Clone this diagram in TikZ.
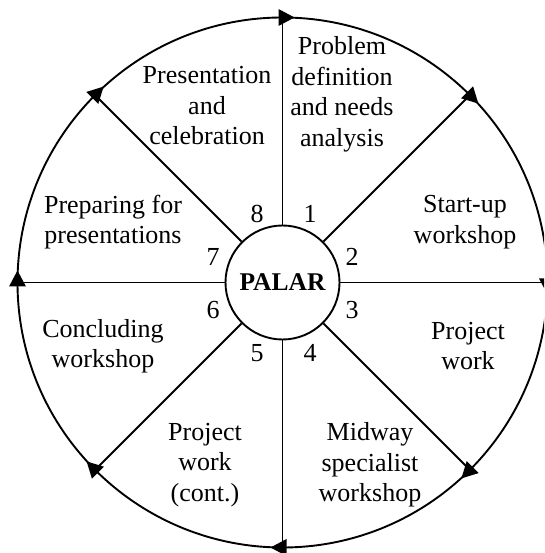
\documentclass[tikz,border=0pt]{standalone}
\usepackage{fontspec}
\setmainfont{Liberation Serif}
\begin{document}
\begin{tikzpicture}[x=1pt,y=1pt,
    ring/.style={line width=1.9pt},
    spoke/.style={line width=1.9pt},
    hubnode/.style={circle, draw, line width=1.9pt, minimum size=114pt, inner sep=0pt,
      font=\fontsize{25.5}{30}\selectfont\bfseries},
    phase/.style={align=center, inner sep=0pt, font=\fontsize{26}{30.5}\selectfont},
    num/.style={inner sep=0pt, font=\fontsize{26}{30}\selectfont},
    tipmark/.style={fill=black}]
  \useasboundingbox (-282.5,-270.5) rectangle (261.5,282.5);
  \clip (-282.5,-270.5) rectangle (261.5,282.5);

  % outer cycle
  \draw[ring] (0,0) circle (265);

  % hub
  \node[hubnode] (hub) at (0,0) {PALAR};

  % spokes to the rim
  \foreach \a in {90,45,0,-45,-90,-135,180,135} {
    \coordinate (o\a) at (\a:265);
    \draw[spoke] (hub.\a) -- (o\a);
  }

  % clockwise arrowheads on the rim
  \foreach \a in {90,45,0,-45,-90,-135,180,135} {
    \begin{scope}[shift={(\a:265)}, rotate=\a-90]
      \fill[tipmark] (12,0) -- (-4,8.5) -- (-4,-8.5) -- cycle;
    \end{scope}
  }

  % phase labels
  \node[phase] (p1) at (59.5,188) {Problem\\definition\\and needs\\analysis};
  \node[phase] (p2) at (182.5,60.5) {Start-up\\workshop};
  \node[phase] (p3) at (185.5,-63.5) {Project\\work};
  \node[phase] (p4) at (87.5,-182.5) {Midway\\specialist\\workshop};
  \node[phase] (p5) at (-77.5,-182.5) {Project\\work\\(cont.)};
  \node[phase] (p6) at (-179.5,-63.5) {Concluding\\workshop};
  \node[phase] (p7) at (-169.5,60.5) {Preparing for\\presentations};
  \node[phase] (p8) at (-75.5,176.5) {Presentation\\and\\celebration};

  % step numbers
  \node[num] (n1) at (27.5,68.5) {1};
  \node[num] (n2) at (69.5,25.5) {2};
  \node[num] (n3) at (69.5,-27.5) {3};
  \node[num] (n4) at (27.5,-70.5) {4};
  \node[num] (n5) at (-25.5,-70.5) {5};
  \node[num] (n6) at (-69.5,-27.5) {6};
  \node[num] (n7) at (-69.5,25.5) {7};
  \node[num] (n8) at (-25.5,68.5) {8};
\end{tikzpicture}
\end{document}
